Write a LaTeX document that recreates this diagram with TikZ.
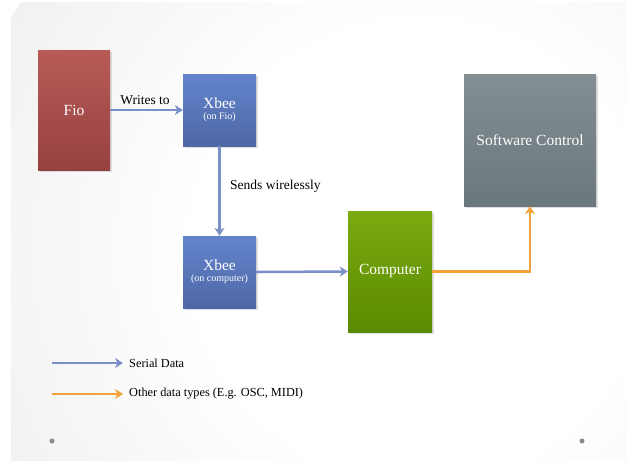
\documentclass[tikz,border=0pt]{standalone}
\usepackage{fontspec}
\setmainfont{Liberation Serif}
\usetikzlibrary{arrows.meta,shadows}
\definecolor{fioTop}{HTML}{B85B57}
\definecolor{fioBot}{HTML}{964141}
\definecolor{xbTop}{HTML}{6384CC}
\definecolor{xbBot}{HTML}{4E68A6}
\definecolor{cpTop}{HTML}{7AAB10}
\definecolor{cpBot}{HTML}{5A8A00}
\definecolor{swTop}{HTML}{848F94}
\definecolor{swBot}{HTML}{6A777B}
\definecolor{serialC}{HTML}{7A8FC8}
\definecolor{otherC}{HTML}{F2A238}
\definecolor{dotC}{HTML}{8A8A8A}
\definecolor{bgEdge}{HTML}{D6D6D6}
\pgfdeclareradialshading{bgshade}{\pgfpoint{0bp}{0bp}}{color(0bp)=(white); color(12bp)=(white); color(50bp)=(bgEdge)}
\tikzset{
  box/.style={draw=none, text=white, align=center, inner sep=0pt,
    drop shadow={opacity=0.25, shadow xshift=1.5pt, shadow yshift=-1.5pt}},
  ttl/.style={font=\rmfamily\fontsize{15.5}{17}\selectfont},
  serial/.style={draw=serialC, line width=2.5pt, -{Stealth[length=8pt,width=10pt,inset=2.5pt]}},
  other/.style={draw=otherC, line width=2.5pt, -{Stealth[length=8pt,width=10pt,inset=2.5pt]}},
  lbl/.style={font=\rmfamily\fontsize{13.5}{15}\selectfont, text=black, inner sep=0pt},
  leg/.style={font=\rmfamily\fontsize{12.3}{14}\selectfont, text=black, inner sep=0pt, anchor=west},
}
\begin{document}
\begin{tikzpicture}[x=1pt,y=-1pt]
\useasboundingbox (0,0) rectangle (628,461);
\fill[white] (0,0) rectangle (628,461);
\begin{scope}
  \clip (11,2) rectangle (626,460);
  \shade[shading=bgshade] (420,250) circle (470);
\end{scope}
% boxes
\node[box, top color=fioTop, bottom color=fioBot, minimum width=72pt, minimum height=120pt, ttl] (fio) at (74,110) {Fio};
\node[box, top color=xbTop, bottom color=xbBot, minimum width=73pt, minimum height=72pt, font=\rmfamily] (xb1) at (219.5,110)
  {{\fontsize{15.5}{16}\selectfont Xbee}\\[-1pt]{\fontsize{10}{11}\selectfont (on Fio)}};
\node[box, top color=xbTop, bottom color=xbBot, minimum width=73pt, minimum height=72pt, font=\rmfamily] (xb2) at (219.5,272)
  {{\fontsize{15.5}{16}\selectfont Xbee}\\[-1pt]{\fontsize{10}{11}\selectfont (on computer)}};
\node[box, top color=cpTop, bottom color=cpBot, minimum width=84pt, minimum height=121pt, ttl] (cp) at (390,271.5) {Computer};
\node[box, top color=swTop, bottom color=swBot, minimum width=132pt, minimum height=132pt, ttl] (sw) at (530,140) {Software Control};
% connectors
\draw[serial] (fio.east) -- (xb1.west);
\node[lbl] (wt) at (145,100) {Writes to};
\draw[serial] (xb1.south) -- (xb2.north);
\node[lbl, anchor=west] (sw2) at (230,186) {Sends wirelessly};
\draw[serial] (xb2.east) -- (cp.west);
\draw[other] (cp.east) -| (sw.south);
% legend
\coordinate (l1a) at (52,363);
\coordinate (l1b) at (123,363);
\coordinate (l2a) at (52,394);
\coordinate (l2b) at (123,394);
\draw[serial] (l1a) -- (l1b);
\node[leg] (t1) at (129,363) {Serial Data};
\draw[other] (l2a) -- (l2b);
\node[leg] (t2) at (129,394) {Other data types (E.g. OSC, MIDI)};
% dots
\fill[dotC] (52,441) circle (2.5);
\fill[dotC] (582,441) circle (2.5);
\end{tikzpicture}
\end{document}
